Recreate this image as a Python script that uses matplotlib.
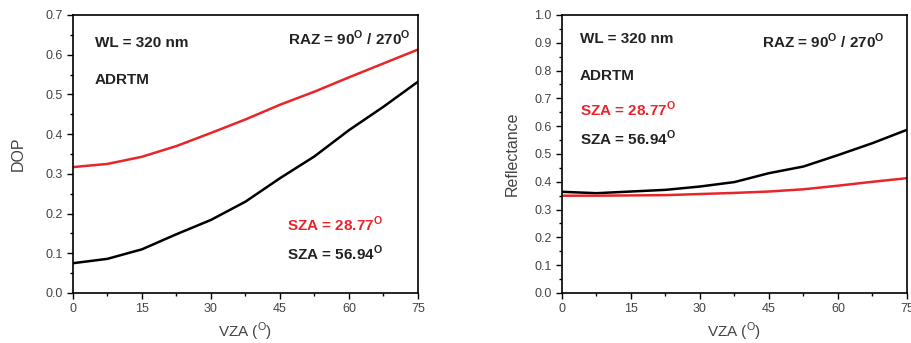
"""DOP and reflectance vs viewing zenith angle at 320 nm (ADRTM)."""

import matplotlib

matplotlib.use("Agg")
import matplotlib.pyplot as plt
from matplotlib.ticker import MultipleLocator

plt.rcParams["font.family"] = ["Liberation Sans", "DejaVu Sans"]
plt.rcParams["mathtext.fontset"] = "custom"
plt.rcParams["mathtext.rm"] = "Liberation Sans"
plt.rcParams["mathtext.bf"] = "Liberation Sans:bold"

vza = [0, 7.5, 15, 22.5, 30, 37.5, 45, 52.5, 60, 67.5, 75]

dop_sza_28 = [0.317, 0.325, 0.343, 0.370, 0.403, 0.437, 0.474, 0.507, 0.543, 0.578, 0.613]
dop_sza_56 = [0.075, 0.086, 0.110, 0.148, 0.184, 0.230, 0.289, 0.344, 0.410, 0.469, 0.532]

refl_sza_28 = [0.350, 0.350, 0.351, 0.352, 0.356, 0.360, 0.365, 0.373, 0.386, 0.400, 0.413]
refl_sza_56 = [0.364, 0.359, 0.365, 0.371, 0.383, 0.399, 0.431, 0.455, 0.496, 0.539, 0.587]

RED = "#e8262a"
TXT = "#222222"
GREY = "#444444"
DEG = r"$^{\mathbf{O}}$"
FS = 11


def style_axes(ax, ymax):
    ax.set_xlim(0, 75)
    ax.set_ylim(0, ymax)
    ax.xaxis.set_major_locator(MultipleLocator(15))
    ax.xaxis.set_minor_locator(MultipleLocator(7.5))
    ax.yaxis.set_major_locator(MultipleLocator(0.1))
    ax.yaxis.set_minor_locator(MultipleLocator(0.05))
    ax.yaxis.set_major_formatter(lambda v, _: f"{v:.1f}")
    ax.tick_params(which="major", direction="out", length=4, width=1,
                   labelsize=9, labelcolor=GREY)
    ax.tick_params(which="minor", direction="out", length=2.5, width=1)
    for spine in ax.spines.values():
        spine.set_linewidth(1.2)
    ax.set_xlabel("VZA (" + r"$^{\mathrm{O}}$" + ")", fontsize=11, color=GREY)
    ax.xaxis.set_label_coords(0.5, -0.10)


fig = plt.figure(figsize=(9.11, 3.43), dpi=100)
ax1 = fig.add_axes([0.0801, 0.1458, 0.3787, 0.8105])
ax2 = fig.add_axes([0.6169, 0.1458, 0.3787, 0.8105])

ax1.plot(vza, dop_sza_56, color="black", lw=1.8)
ax1.plot(vza, dop_sza_28, color=RED, lw=1.8)
style_axes(ax1, 0.7)
ax1.set_ylabel("DOP", fontsize=11.5, color=GREY)
ax1.yaxis.set_label_coords(-0.136, 0.5)
ax1.text(4.8, 0.63, "WL = 320 nm", fontsize=FS, fontweight="bold", color=TXT, va="center")
ax1.text(4.8, 0.536, "ADRTM", fontsize=FS, fontweight="bold", color=TXT, va="center")
ax1.text(73.5, 0.642, "RAZ = 90" + DEG + " / 270" + DEG, fontsize=FS,
         fontweight="bold", color=TXT, va="center", ha="right")
ax1.text(46.5, 0.172, "SZA = 28.77" + DEG, fontsize=FS, fontweight="bold", color=RED, va="center")
ax1.text(46.5, 0.100, "SZA = 56.94" + DEG, fontsize=FS, fontweight="bold", color=TXT, va="center")

ax2.plot(vza, refl_sza_56, color="black", lw=1.8)
ax2.plot(vza, refl_sza_28, color=RED, lw=1.8)
style_axes(ax2, 1.0)
ax2.set_ylabel("Reflectance", fontsize=11.5, color=GREY)
ax2.yaxis.set_label_coords(-0.122, 0.5)
ax2.text(3.9, 0.914, "WL = 320 nm", fontsize=FS, fontweight="bold", color=TXT, va="center")
ax2.text(3.9, 0.78, "ADRTM", fontsize=FS, fontweight="bold", color=TXT, va="center")
ax2.text(70.2, 0.905, "RAZ = 90" + DEG + " / 270" + DEG, fontsize=FS,
         fontweight="bold", color=TXT, va="center", ha="right")
ax2.text(3.9, 0.662, "SZA = 28.77" + DEG, fontsize=FS, fontweight="bold", color=RED, va="center")
ax2.text(3.9, 0.557, "SZA = 56.94" + DEG, fontsize=FS, fontweight="bold", color=TXT, va="center")

fig.savefig("out.png", dpi=100)
plt.close(fig)
